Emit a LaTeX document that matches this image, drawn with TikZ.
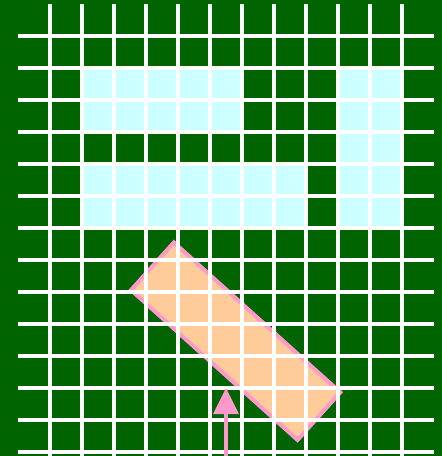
\documentclass[tikz,border=0pt]{standalone}
\usetikzlibrary{arrows.meta}
\definecolor{bggreen}{RGB}{0,100,0}
\definecolor{cellcyan}{RGB}{204,255,255}
\definecolor{peach}{RGB}{255,204,153}
\definecolor{pinkline}{RGB}{255,153,204}
\tikzset{
  cell/.style={fill=cellcyan},
  gridline/.style={draw=white, line width=4pt},
  plate/.style={draw=pinkline, fill=peach, line width=4pt, rectangle, inner sep=0pt,
                minimum width=224pt, minimum height=64pt, rotate=-42},
  pointer/.style={draw=pinkline, line width=3.5pt, -{Triangle[length=26pt,width=25pt]}}
}
\begin{document}
\begin{tikzpicture}[x=1pt,y=-1pt]
\useasboundingbox (0,0) rectangle (442,456);
\fill[bggreen] (0,0) rectangle (442,456);
% cyan blocks
\fill[cell] (82,68) rectangle (242,132);
\fill[cell] (82,164) rectangle (306,228);
\fill[cell] (338,68) rectangle (402,228);
% orange plate
\node[plate] (plate) at (235.7,341.2) {};
% grid
\foreach \i in {0,...,11} {
  \draw[gridline] (50+32*\i,4) -- (50+32*\i,460);
}
\foreach \j in {0,...,13} {
  \draw[gridline] (18,36+32*\j) -- (434,36+32*\j);
}
% arrow
\coordinate (tail) at (226,460);
\coordinate (tip) at (226,388);
\draw[pointer] (tail) -- (tip);
\end{tikzpicture}
\end{document}
